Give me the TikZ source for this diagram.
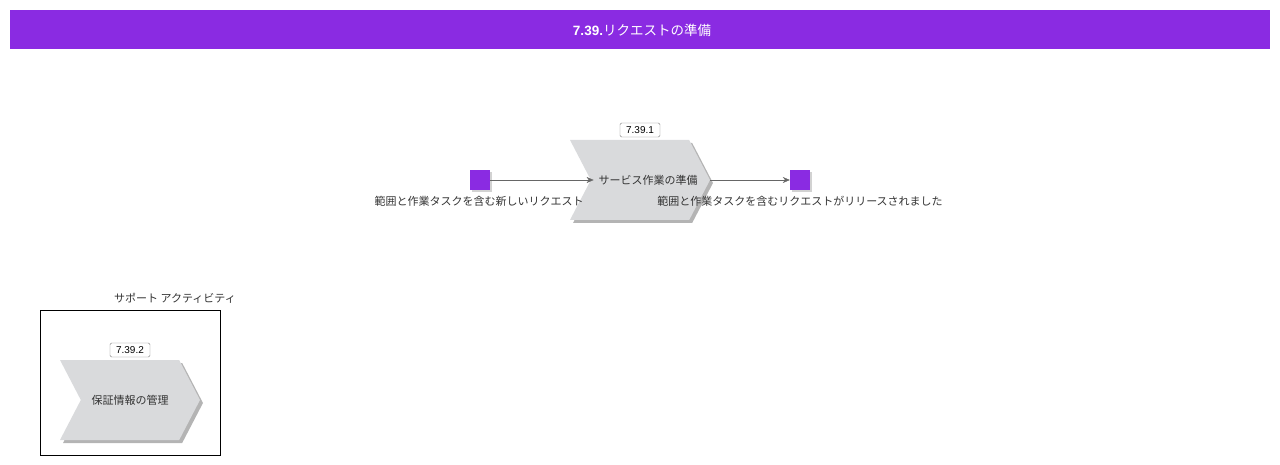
\documentclass[tikz,border=0pt]{standalone}
\usepackage{fontspec}
\setmainfont{Liberation Sans}
\newfontfamily\jp{Noto Sans CJK JP}
\usetikzlibrary{positioning, arrows.meta, shapes.symbols, shadows}

\definecolor{violet}{HTML}{8A2BE2}
\definecolor{chevgray}{HTML}{D9DADC}
\definecolor{shadowgray}{HTML}{B4B4B4}
\definecolor{textgray}{HTML}{333333}

\begin{document}
\begin{tikzpicture}[
    x=1pt, y=-1pt,
    titlebar/.style={fill=violet, draw=none},
    process/.style={signal, signal to=east, signal from=west, signal pointer angle=125,
        fill=chevgray, draw=none, minimum width=140pt, minimum height=80pt, inner sep=0pt,
        font=\jp\fontsize{11}{13}\selectfont, text=textgray,
        drop shadow={shadow xshift=3pt, shadow yshift=-3pt, fill=shadowgray, opacity=1}},
    event/.style={rectangle, fill=violet, minimum size=20pt, inner sep=0pt,
        drop shadow={shadow xshift=2pt, shadow yshift=-2pt, fill=shadowgray, opacity=0.6}},
    idbox/.style={rectangle, draw=gray, rounded corners=1.5pt, fill=white, inner sep=1.5pt,
        minimum width=40pt, minimum height=14pt, font=\fontsize{10}{11}\selectfont},
    caption/.style={font=\jp\fontsize{11}{13}\selectfont, text=textgray, inner sep=0pt},
    arrow/.style={-{Stealth[length=7pt, width=6pt]}, draw=gray!80!black, thin}
]
    \useasboundingbox (0,0) rectangle (1280,465);

    % Title bar
    \node[titlebar, minimum width=1260pt, minimum height=39pt, inner sep=0pt] (title) at (640,29.5) {};
    \node[text=white, font=\fontsize{13.5}{15}\selectfont] (titletext) at (642,30)
        {\textbf{7.39.}{\jp リクエストの準備}};

    % Main process
    \node[process] (P1) at (640,180) {\makebox[0pt]{\hspace{16pt}サービス作業の準備}};
    \node[idbox] (N1) at (640,130) {7.39.1};

    % Events
    \node[event] (E1) at (480,180) {};
    \node[event] (E2) at (800,180) {};
    \node[caption] (L1) at (479,201) {範囲と作業タスクを含む新しいリクエスト};
    \node[caption] (L2) at (800,201) {範囲と作業タスクを含むリクエストがリリースされました};

    % Connections
    \draw[arrow] (E1.east) -- ([xshift=3pt]P1.west);
    \draw[arrow] (P1.east) -- (E2.west);

    % Support activities
    \node[draw=black, minimum width=180pt, minimum height=145pt, inner sep=0pt] (S) at (130,382.5) {};
    \node[caption] (SL) at (175,298) {サポート アクティビティ};
    \node[process] (P2) at (130,400) {\makebox[0pt]{保証情報の管理}};
    \node[idbox] (N2) at (130,350) {7.39.2};

\end{tikzpicture}
\end{document}
